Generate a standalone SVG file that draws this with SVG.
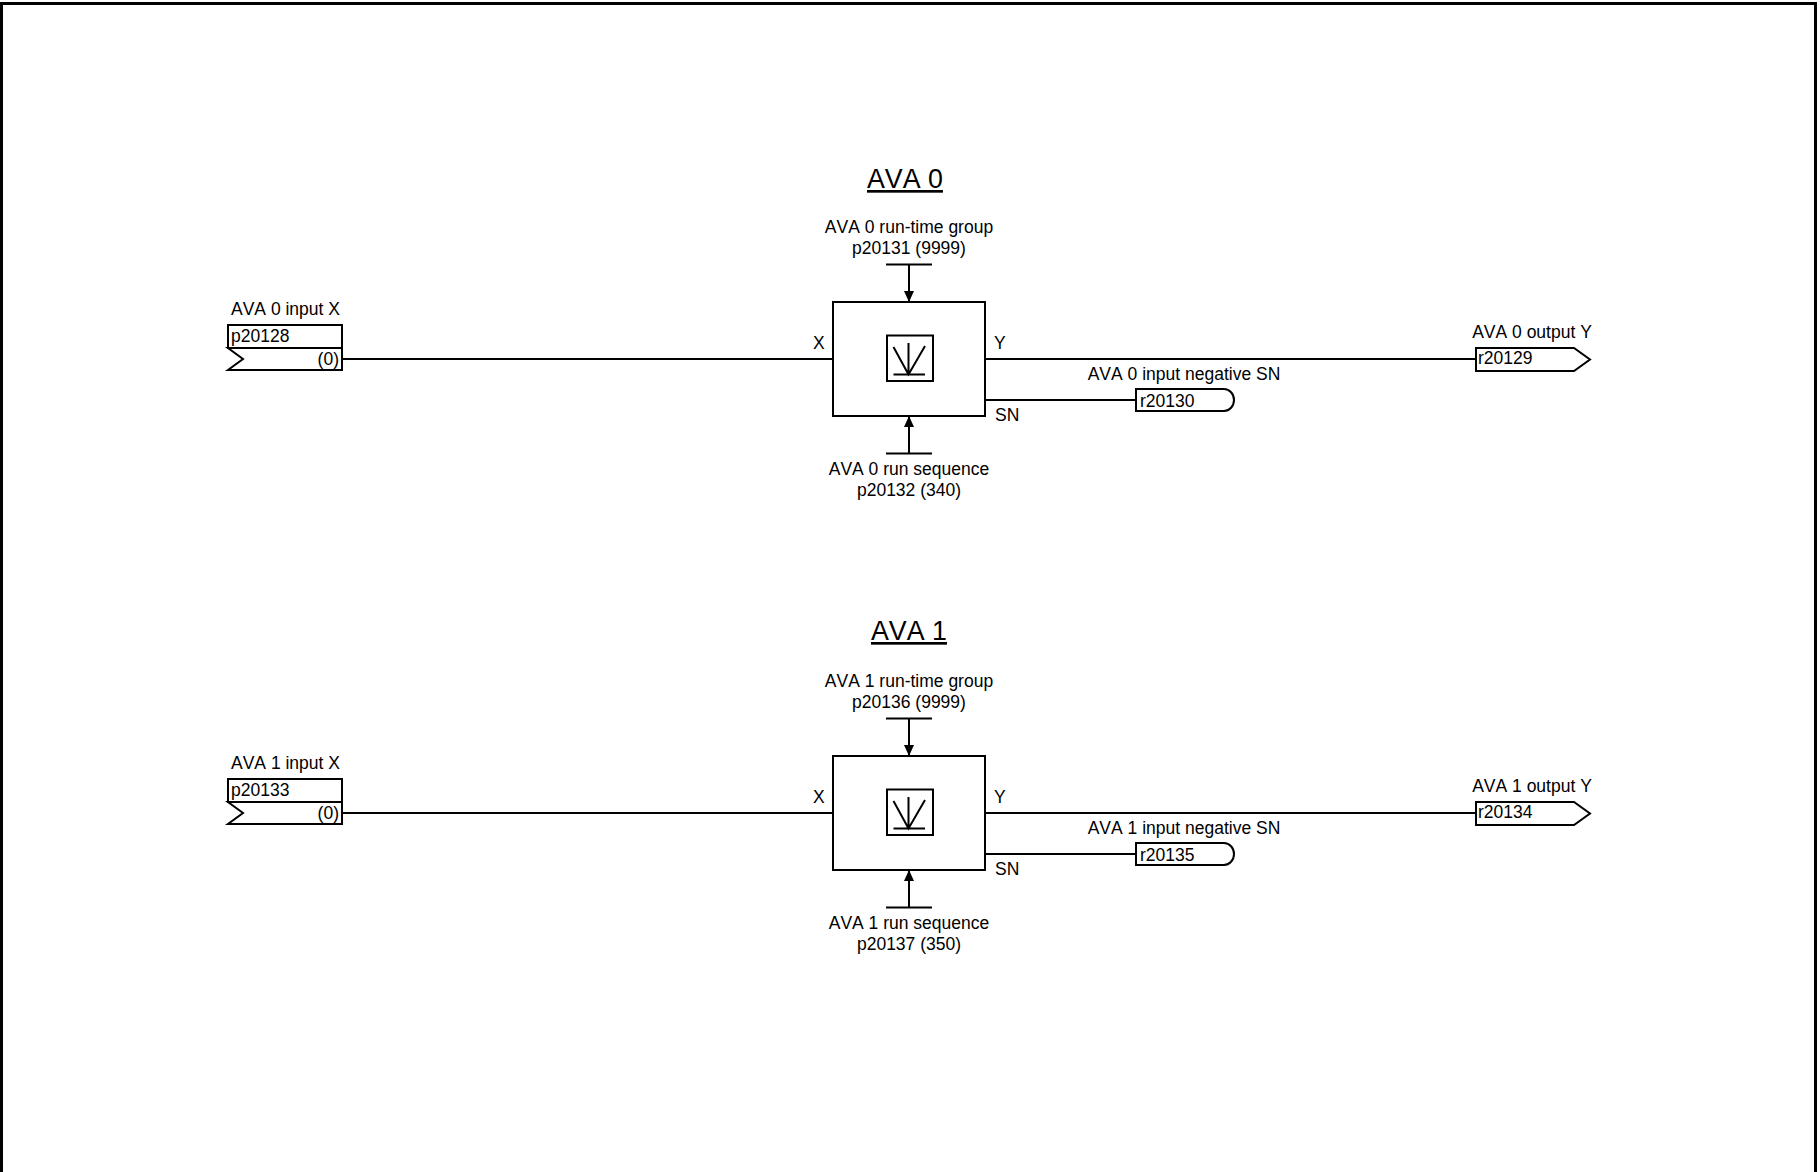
<svg xmlns="http://www.w3.org/2000/svg" width="1820" height="1172" viewBox="0 0 1820 1172">
<defs>
<style>
text{font-family:"Liberation Sans",Arial,sans-serif;font-size:17.5px;fill:#000;font-kerning:none}
.t{font-size:26.8px;text-decoration:underline}
.c{text-anchor:middle}
.e{text-anchor:end}
.s{fill:none;stroke:#000;stroke-width:2}
.b{fill:#fff;stroke:#000;stroke-width:2}
.w{fill:none;stroke:#000;stroke-width:2}
</style>
<marker id="ah" viewBox="0 0 11 10" refX="11" refY="5" markerWidth="11" markerHeight="10" markerUnits="userSpaceOnUse" orient="auto">
<path d="M0,0 L11,5 L0,10 Z" fill="#000"/>
</marker>
</defs>
<rect x="0" y="0" width="1820" height="1172" fill="#fff"/>
<path d="M1.5,1172 V3.5 H1815.5 V1172" fill="none" stroke="#000" stroke-width="3"/>

<g id="connectors">
<line class="s" x1="342" y1="359" x2="833" y2="359"/>
<line class="s" x1="985" y1="359" x2="1476" y2="359"/>
<line class="s" x1="985" y1="400" x2="1136" y2="400"/>
<line class="s" x1="886" y1="264.5" x2="932" y2="264.5"/>
<line class="s" x1="909" y1="264.5" x2="909" y2="302" marker-end="url(#ah)"/>
<line class="s" x1="886" y1="453.5" x2="932" y2="453.5"/>
<line class="s" x1="909" y1="453.5" x2="909" y2="416" marker-end="url(#ah)"/>

<line class="s" x1="342" y1="813" x2="833" y2="813"/>
<line class="s" x1="985" y1="813" x2="1476" y2="813"/>
<line class="s" x1="985" y1="854" x2="1136" y2="854"/>
<line class="s" x1="886" y1="718.5" x2="932" y2="718.5"/>
<line class="s" x1="909" y1="718.5" x2="909" y2="756" marker-end="url(#ah)"/>
<line class="s" x1="886" y1="907.5" x2="932" y2="907.5"/>
<line class="s" x1="909" y1="907.5" x2="909" y2="870" marker-end="url(#ah)"/>
</g>

<g id="ava0-title"><text class="t" x="867" y="188">AVA 0</text></g>

<g id="ava0-input">
<text x="231" y="315">AVA 0 input X</text>
<rect class="b" x="228" y="325" width="114" height="23"/>
<path class="b" d="M228,348 H342 V370 H228 L243,359 Z"/>
<text x="231" y="341.5">p20128</text>
<text class="e" x="339" y="365">(0)</text>
</g>

<g id="ava0-block">
<text class="c" x="909" y="233">AVA 0 run-time group</text>
<text class="c" x="909" y="253.5">p20131 (9999)</text>
<rect class="b" x="833" y="302" width="152" height="114"/>
<rect class="w" x="887" y="335.5" width="46" height="45.5"/>
<path class="w" d="M893.5,347 L908.5,374.5 L925,346 M908.5,343 V374.5 M893.5,374.5 H925"/>
<text x="813" y="349">X</text>
<text x="994" y="349">Y</text>
<text x="995" y="421">SN</text>
<text class="c" x="909" y="475">AVA 0 run sequence</text>
<text class="c" x="909" y="496">p20132 (340)</text>
</g>

<g id="ava0-sn">
<text class="c" x="1184" y="380">AVA 0 input negative SN</text>
<path class="b" d="M1136,389 H1224 A10,11 0 0 1 1224,411 H1136 Z"/>
<text x="1140" y="406.5">r20130</text>
</g>

<g id="ava0-output">
<text class="c" x="1532" y="337.5">AVA 0 output Y</text>
<path class="b" d="M1476,348 H1574 L1590,359.5 L1574,371 H1476 Z"/>
<text x="1478" y="363.5">r20129</text>
</g>

<g id="ava1-title"><text class="t" x="871" y="640">AVA 1</text></g>

<g id="ava1-input">
<text x="231" y="769">AVA 1 input X</text>
<rect class="b" x="228" y="779" width="114" height="23"/>
<path class="b" d="M228,802 H342 V824 H228 L243,813 Z"/>
<text x="231" y="795.5">p20133</text>
<text class="e" x="339" y="819">(0)</text>
</g>

<g id="ava1-block">
<text class="c" x="909" y="687">AVA 1 run-time group</text>
<text class="c" x="909" y="707.5">p20136 (9999)</text>
<rect class="b" x="833" y="756" width="152" height="114"/>
<rect class="w" x="887" y="789.5" width="46" height="45.5"/>
<path class="w" d="M893.5,801 L908.5,828.5 L925,800 M908.5,797 V828.5 M893.5,828.5 H925"/>
<text x="813" y="803">X</text>
<text x="994" y="803">Y</text>
<text x="995" y="875">SN</text>
<text class="c" x="909" y="929">AVA 1 run sequence</text>
<text class="c" x="909" y="950">p20137 (350)</text>
</g>

<g id="ava1-sn">
<text class="c" x="1184" y="834">AVA 1 input negative SN</text>
<path class="b" d="M1136,843 H1224 A10,11 0 0 1 1224,865 H1136 Z"/>
<text x="1140" y="860.5">r20135</text>
</g>

<g id="ava1-output">
<text class="c" x="1532" y="791.5">AVA 1 output Y</text>
<path class="b" d="M1476,802 H1574 L1590,813.5 L1574,825 H1476 Z"/>
<text x="1478" y="817.5">r20134</text>
</g>
</svg>
